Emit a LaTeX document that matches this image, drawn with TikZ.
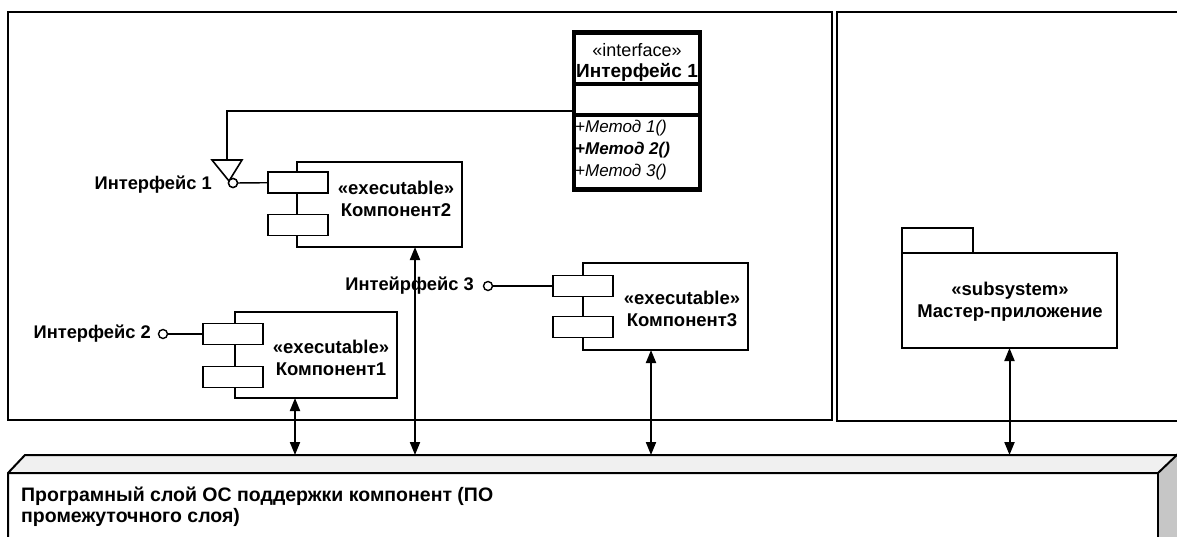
\documentclass[tikz,border=0pt]{standalone}
\usepackage{fontspec}
\setmainfont{Liberation Sans}
\usetikzlibrary{arrows.meta}
\begin{document}
\begin{tikzpicture}[x=1pt,y=-1pt,
  frame/.style={draw,line width=2.5pt},
  compbox/.style={draw,line width=1.5pt,fill=white,inner sep=0pt,outer sep=0pt},
  portbox/.style={draw,line width=1.5pt,fill=white,inner sep=0pt,outer sep=0pt,minimum width=60pt,minimum height=21pt},
  lollipop/.style={draw,circle,line width=1.4pt,fill=white,minimum size=9pt,inner sep=0pt,outer sep=0pt},
  lbl/.style={font=\bfseries\fontsize{18.3}{22}\selectfont,inner sep=0pt},
  ctext/.style={font=\bfseries\fontsize{18.5}{22}\selectfont,align=center,inner sep=0pt},
  conn/.style={line width=1.4pt},
  dep/.style={line width=2pt,{Triangle[width=10pt,length=13pt]}-{Triangle[width=10pt,length=13pt]}}
]
\useasboundingbox (0,0) rectangle (1177,536);

% frames
\draw[frame] (8,12) rectangle (832,420);
\draw[frame] (1180,12) -- (837,12) -- (837,421) -- (1180,421);

% interface class
\node[draw,line width=4.5pt,minimum width=126pt,minimum height=157pt,inner sep=0pt,outer sep=0pt] (ifc) at (637,111) {};
\draw[line width=4pt] (574,84) -- (700,84);
\draw[line width=4pt] (574,114.5) -- (700,114.5);
\node[font=\fontsize{18}{20}\selectfont,inner sep=0pt] (ifcst) at (637,50) {«interface»};
\node[font=\bfseries\fontsize{19}{20}\selectfont,inner sep=0pt] (ifcname) at (637,72) {Интерфейс 1};
\node[font=\itshape\fontsize{17}{20}\selectfont,anchor=west,inner sep=0pt] (m1) at (575,128) {+Метод 1()};
\node[font=\bfseries\itshape\fontsize{17}{20}\selectfont,anchor=west,inner sep=0pt] (m2) at (575,150) {+Метод 2()};
\node[font=\itshape\fontsize{17}{20}\selectfont,anchor=west,inner sep=0pt] (m3) at (575,172) {+Метод 3()};

% component 2
\node[compbox,minimum width=165pt,minimum height=85pt] (c2) at (379.5,204.5) {};
\node[portbox] (c2a) at (298,182.5) {};
\node[portbox] (c2b) at (298,225) {};
\node[ctext] (c2t) at (396,199) {«executable»\\Компонент2};
\node[lollipop] (i1) at (233,183) {};
\node[lbl,anchor=east] (i1l) at (212,185) {Интерфейс 1};
\draw[conn] (i1) -- (c2a);
\coordinate (bend) at (227,111);
\coordinate (tri) at (227,160);
\draw[conn] (ifc.west |- bend) -- (bend) -- (tri);
\draw[line width=1.6pt,fill=white] (212,160) -- (242,160) -- (229,181) -- cycle;
\node[lollipop] at (233,183) {};

% component 1
\node[compbox,minimum width=162pt,minimum height=86pt] (c1) at (316,355) {};
\node[portbox] (c1a) at (233,334) {};
\node[portbox] (c1b) at (233,377) {};
\node[ctext] (c1t) at (331,358) {«executable»\\Компонент1};
\node[lollipop] (i2) at (163,334) {};
\node[lbl,anchor=east] (i2l) at (151,334) {Интерфейс 2};
\draw[conn] (i2) -- (c1a);

% component 3
\node[compbox,minimum width=165pt,minimum height=87pt] (c3) at (665.5,306.5) {};
\node[portbox] (c3a) at (583,286) {};
\node[portbox] (c3b) at (583,327) {};
\node[ctext] (c3t) at (682,309) {«executable»\\Компонент3};
\node[lollipop] (i3) at (488,286) {};
\node[lbl,anchor=east] (i3l) at (474,286) {Интейрфейс 3};
\draw[conn] (i3) -- (c3a);

% subsystem
\node[compbox,minimum width=71pt,minimum height=25pt] (tab) at (937.5,240.5) {};
\node[compbox,minimum width=215pt,minimum height=95pt] (sub) at (1009.5,300.5) {};
\node[ctext] (subt) at (1010,302) {«subsystem»\\Мастер-приложение};

% middleware bar
\coordinate (bartop) at (0,455);
\fill[gray!12] (8,473) -- (25,455) -- (1180,455) -- (1158,473) -- cycle;
\fill[gray!45] (1158,473) -- (1180,452) -- (1180,540) -- (1158,540) -- cycle;
\draw[line width=2pt] (8,540) -- (8,473) -- (25,455) -- (1180,455);
\draw[line width=2pt] (8,473) -- (1158,473) -- (1180,452);
\draw[line width=2pt] (1158,473) -- (1158,540);
\node[font=\bfseries\fontsize{19.5}{21}\selectfont,anchor=north west,align=left,inner sep=0pt] (bart) at (21,487)
  {Програмный слой ОС поддержки компонент (ПО\\промежуточного слоя)};

% dependencies
\draw[dep] ([xshift=-21pt]c1.south) -- ([xshift=-21pt]c1.south |- bartop);
\draw[dep] ([xshift=35.5pt]c2.south) -- ([xshift=35.5pt]c2.south |- bartop);
\draw[dep] ([xshift=-14.5pt]c3.south) -- ([xshift=-14.5pt]c3.south |- bartop);
\draw[dep] (sub.south) -- (sub.south |- bartop);
\end{tikzpicture}
\end{document}
